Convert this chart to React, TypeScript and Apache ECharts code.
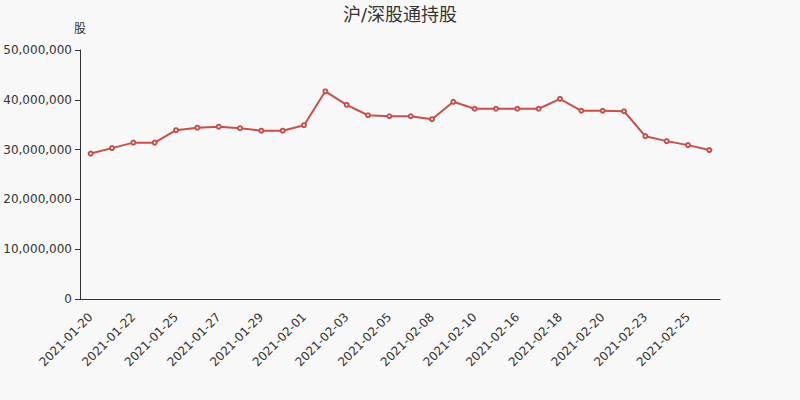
import React, { useEffect, useRef } from "react";
import * as echarts from "echarts";

const titleText = "沪/深股通持股";
const yAxisName = "股";
const dates = [
  "2021-01-20", "2021-01-21", "2021-01-22", "2021-01-23", "2021-01-25",
  "2021-01-26", "2021-01-27", "2021-01-28", "2021-01-29", "2021-01-30",
  "2021-02-01", "2021-02-02", "2021-02-03", "2021-02-04", "2021-02-05",
  "2021-02-06", "2021-02-08", "2021-02-09", "2021-02-10", "2021-02-11",
  "2021-02-16", "2021-02-17", "2021-02-18", "2021-02-19", "2021-02-20",
  "2021-02-22", "2021-02-23", "2021-02-24", "2021-02-25", "2021-02-26",
];
const holdings = [
  29200000, 30300000, 31400000, 31400000, 33900000,
  34400000, 34600000, 34300000, 33800000, 33800000,
  34900000, 41700000, 39000000, 36900000, 36700000,
  36700000, 36100000, 39600000, 38200000, 38200000,
  38200000, 38200000, 40200000, 37800000, 37800000,
  37700000, 32700000, 31700000, 30900000, 29900000,
];

const fmt = (v: number) => v.toString().replace(/\B(?=(\d{3})+(?!\d))/g, ",");

export default function App() {
  const ref = useRef<HTMLDivElement>(null);
  useEffect(() => {
    if (!ref.current) return;
    const chart = echarts.init(ref.current, undefined, { renderer: "svg" });
    chart.setOption({
      animation: false,
      backgroundColor: "#f8f8f8",
      textStyle: { fontFamily: "DejaVu Sans, Noto Sans CJK SC, sans-serif" },
      title: {
        text: titleText,
        left: "center",
        top: 0,
        textStyle: { fontSize: 18, fontWeight: "normal", color: "#333" },
      },
      grid: { left: 80, right: 80, top: 50, bottom: 101, containLabel: false },
      xAxis: {
        type: "category",
        data: dates,
        boundaryGap: true,
        axisLine: { lineStyle: { color: "#333" } },
        axisTick: { interval: 1, lineStyle: { color: "#333" } },
        axisLabel: { interval: 1, rotate: 45, margin: 16, color: "#333", fontSize: 12 },
      },
      yAxis: {
        type: "value",
        name: yAxisName,
        min: 0,
        max: 50000000,
        interval: 10000000,
        nameTextStyle: { color: "#333", fontSize: 12 },
        axisLine: { show: true, lineStyle: { color: "#333" } },
        axisTick: { show: true, lineStyle: { color: "#333" } },
        splitLine: { show: false },
        axisLabel: { color: "#333", fontSize: 12, formatter: (v: number) => fmt(v) },
      },
      series: [
        {
          type: "line",
          data: holdings,
          symbol: "emptyCircle",
          symbolSize: 4,
          lineStyle: { color: "#c8504c", width: 2 },
          itemStyle: { color: "#c8504c" },
        },
      ],
    });
    return () => chart.dispose();
  }, []);
  return (
    <div
      ref={ref}
      style={{ position: "absolute", left: 0, top: 0, width: 800, height: 400 }}
    />
  );
}
